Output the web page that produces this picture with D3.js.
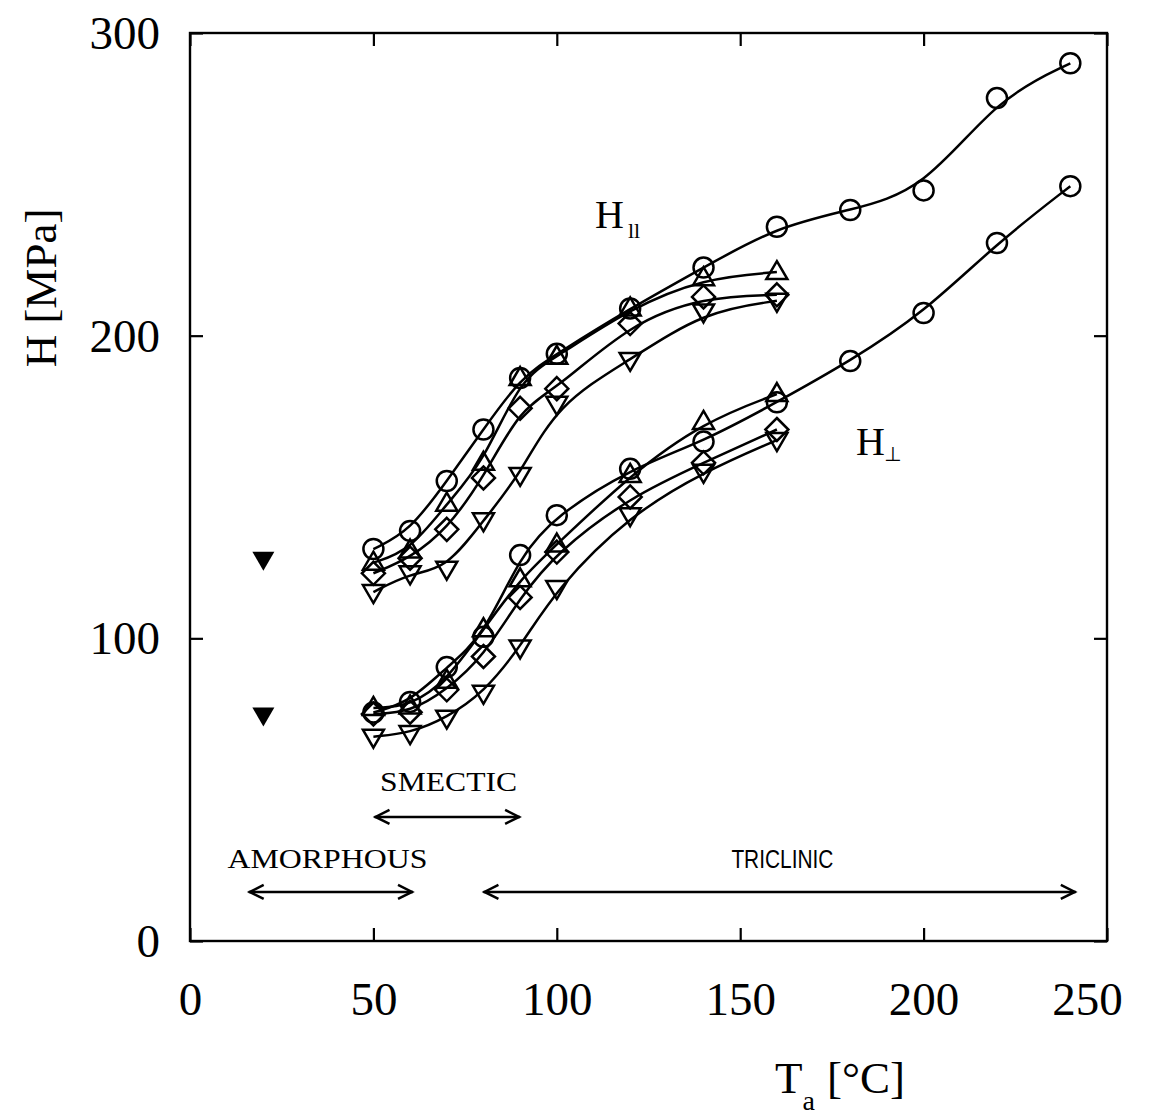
<!DOCTYPE html>
<html><head><meta charset="utf-8">
<script src="https://cdn.jsdelivr.net/npm/d3@7"></script>
<style>body{margin:0;background:#fff;} svg{display:block;}</style>
</head><body>
<div id="chart"></div>
<script>
// ---- data ----
const xLong = [50,60,70,80,90,100,120,140,160,180,200,220,240];
const xShort = [50,60,70,80,90,100,120,140,160];
const parCircle = [129.5,135.5,152,169,186,194,209,222.5,236,241.5,248,278.5,290];
const parUp = [125,129,144.5,158,186,193,209,219,221];
const parDiamond = [121.5,126.5,136,153,176,182.5,204,212.8,213.5];
const parDown = [115.3,121.5,123,139,154,177.5,192,208,211.5];
const perpCircle = [75.5,79,90.5,100.5,127.5,140.7,156,165,178,191.6,207.5,230.6,249.4];
const perpUp = [77,77.5,86,103,119.5,131,154,171.5,180.7];
const perpDiamond = [75,75.6,83,94,113.5,128.5,146.7,158,169];
const perpDown = [67.5,68.7,73.8,82,97,116.6,140.7,155,165.5];
const filledX = [20,20];
const filledY = [126,74.5];
const xTicks = [0,50,100,150,200,250];
const yTicks = [0,100,200,300];
const phases = [
  {name:"SMECTIC", x0:50.3, x1:90, y:41, tx:70.5, ty:49.5, font:"serif", len:137},
  {name:"AMORPHOUS", x0:16, x1:60.8, y:16.2, tx:37.5, ty:24, font:"serif", len:200},
  {name:"TRICLINIC", x0:80, x1:241.5, y:16.2, tx:161.5, ty:24, font:"sans", len:102}
];

// ---- layout ----
const W=1149, H=1120;
const L=190, T=33, R=1107, B=941;
const x = d3.scaleLinear().domain([0,250]).range([L,R]);
const y = d3.scaleLinear().domain([0,300]).range([B,T]);

const svg = d3.select("#chart").append("svg").attr("width",W).attr("height",H);
svg.append("rect").attr("width",W).attr("height",H).attr("fill","#fff");

const serif = "'Liberation Serif','Times New Roman',serif";
const sans = "'Liberation Sans',Arial,sans-serif";
const SW = 2.5;

// frame
svg.append("rect").attr("x",L).attr("y",T).attr("width",R-L).attr("height",B-T)
  .attr("fill","none").attr("stroke","#000").attr("stroke-width",2.4);

// axes with inward ticks
const tickLen = 13;
const gx = svg.append("g").attr("transform",`translate(0,${B})`)
  .call(d3.axisBottom(x).tickValues(xTicks).tickSize(-tickLen).tickPadding(41).tickFormat(d3.format("d")));
const gxt = svg.append("g").attr("transform",`translate(0,${T})`)
  .call(d3.axisTop(x).tickValues(xTicks).tickSize(-tickLen).tickFormat(""));
const gy = svg.append("g").attr("transform",`translate(${L},0)`)
  .call(d3.axisLeft(y).tickValues(yTicks).tickSize(-tickLen).tickPadding(30).tickFormat(d3.format("d")));
const gyr = svg.append("g").attr("transform",`translate(${R},0)`)
  .call(d3.axisRight(y).tickValues(yTicks).tickSize(-tickLen).tickFormat(""));
[gx,gxt,gy,gyr].forEach(g=>{
  g.select(".domain").remove();
  g.selectAll("line").attr("stroke","#000").attr("stroke-width",2.2);
  g.selectAll("text").attr("font-family",serif).attr("font-size",47).attr("fill","#000");
});
gx.selectAll("text").attr("dy","0.71em");
gx.selectAll(".tick").filter(d=>d===250).select("text").attr("dx",-20);
gy.selectAll("text").attr("dy","0.33em");

// axis titles
svg.append("text").attr("transform",`translate(56,${288}) rotate(-90)`)
  .attr("text-anchor","middle").attr("font-family",serif).attr("font-size",45).text("H [MPa]");
const xt = svg.append("text").attr("x",775).attr("y",1093).attr("font-family",serif).attr("font-size",45);
xt.append("tspan").text("T");
xt.append("tspan").attr("font-size",28).attr("dy",17).text("a");
xt.append("tspan").attr("dy",-17).attr("dx",12).text("[°C]");

// curves
const line = d3.line().x(d=>x(d[0])).y(d=>y(d[1])).curve(d3.curveBasis);
const seriesList = [
  {xs:xLong, ys:parCircle, m:"circle"},
  {xs:xShort, ys:parUp, m:"up"},
  {xs:xShort, ys:parDiamond, m:"diamond"},
  {xs:xShort, ys:parDown, m:"down"},
  {xs:xLong, ys:perpCircle, m:"circle"},
  {xs:xShort, ys:perpUp, m:"up"},
  {xs:xShort, ys:perpDiamond, m:"diamond"},
  {xs:xShort, ys:perpDown, m:"down"}
];
const shapes = {
  up: "M0,-11L10.5,7L-10.5,7Z",
  down: "M0,11L10.5,-7L-10.5,-7Z",
  diamond: "M0,-11.5L11.5,0L0,11.5L-11.5,0Z"
};
seriesList.forEach(s=>{
  const pts = s.xs.map((v,i)=>[v,s.ys[i]]);
  svg.append("path").datum(pts).attr("d",line).attr("fill","none")
    .attr("stroke","#000").attr("stroke-width",SW);
});
seriesList.forEach(s=>{
  const pts = s.xs.map((v,i)=>[v,s.ys[i]]);
  const g = svg.append("g");
  if(s.m==="circle"){
    g.selectAll("circle").data(pts).join("circle")
      .attr("cx",d=>x(d[0])).attr("cy",d=>y(d[1])).attr("r",10)
      .attr("fill","none").attr("stroke","#000").attr("stroke-width",SW);
  } else {
    g.selectAll("path").data(pts).join("path")
      .attr("transform",d=>`translate(${x(d[0])},${y(d[1])})`)
      .attr("d",shapes[s.m]).attr("fill","none").attr("stroke","#000").attr("stroke-width",SW);
  }
});
// filled triangles
svg.append("g").selectAll("path").data(filledX.map((v,i)=>[v,filledY[i]])).join("path")
  .attr("transform",d=>`translate(${x(d[0])},${y(d[1])})`)
  .attr("d","M0,11L11,-8L-11,-8Z").attr("fill","#000");

// curve labels
const lp = svg.append("text").attr("x",595).attr("y",228).attr("font-family",serif).attr("font-size",40).attr("fill","#000");
lp.append("tspan").text("H");
lp.append("tspan").attr("font-size",22).attr("dy",10).attr("dx",4).attr("fill","#000").text("ll");
const lq = svg.append("text").attr("x",856).attr("y",455).attr("font-family",serif).attr("font-size",40);
lq.append("tspan").text("H");
lq.append("tspan").attr("font-family","'DejaVu Sans',sans-serif").attr("font-size",20).attr("dy",6).attr("dx",-1).text("⊥");

// phase arrows
phases.forEach(p=>{
  const x0=x(p.x0), x1=x(p.x1), yy=y(p.y);
  const g = svg.append("g").attr("stroke","#000").attr("stroke-width",SW).attr("fill","none");
  g.append("line").attr("x1",x0).attr("x2",x1).attr("y1",yy).attr("y2",yy);
  g.append("path").attr("d",`M${x0+15},${yy-7}L${x0+1},${yy}L${x0+15},${yy+7}`);
  g.append("path").attr("d",`M${x1-15},${yy-7}L${x1-1},${yy}L${x1-15},${yy+7}`);
  svg.append("text").attr("x",x(p.tx)).attr("y",y(p.ty)).attr("text-anchor","middle")
    .attr("font-family",p.font==="sans"?sans:serif)
    .attr("font-size",p.font==="sans"?26:27)
    .attr("textLength",p.len).attr("lengthAdjust","spacingAndGlyphs").text(p.name);
});
</script>
</body></html>
